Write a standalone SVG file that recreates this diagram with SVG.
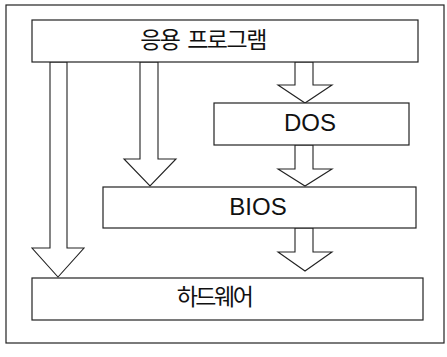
<svg xmlns="http://www.w3.org/2000/svg" width="447" height="357" viewBox="0 0 447 357">
<style>
.box{fill:#fff;stroke:#222;stroke-width:1.2}
.arr{fill:#fff;stroke:#222;stroke-width:1.1;stroke-linejoin:miter}
.ko{font-family:"Noto Sans CJK KR","Noto Sans",sans-serif;font-size:23px;fill:#111;text-anchor:middle}
.en{font-family:"Liberation Sans",Arial,sans-serif;font-size:24px;fill:#111;text-anchor:middle}
</style>
<rect width="447" height="357" fill="#fff"/>
<rect x="6" y="5" width="438" height="338" fill="none" stroke="#222" stroke-width="1.2"/>
<g id="connectors">
<polygon class="arr" points="50,62 67,62 67,248 84,248 58,277 32,248 50,248"/>
<polygon class="arr" points="140,62 158,62 158,159 176,159 150,186 124,159 140,159"/>
<polygon class="arr" points="295,62 313,62 313,85 332,85 305,103 278,85 295,85"/>
<polygon class="arr" points="295,145 313,145 313,169 332,169 305,186 278,169 295,169"/>
<polygon class="arr" points="295,228 313,228 313,252 332,252 305,271 278,252 295,252"/>
</g>
<g id="app">
<rect class="box" x="32" y="20" width="386" height="42"/>
<text class="ko" x="203" y="47.5" letter-spacing="-1.5" word-spacing="4">응용 프로그램</text>
</g>
<g id="dos">
<rect class="box" x="214" y="103" width="195" height="42"/>
<text class="en" x="310" y="131">DOS</text>
</g>
<g id="bios">
<rect class="box" x="103" y="187" width="313" height="41"/>
<text class="en" x="258" y="215">BIOS</text>
</g>
<g id="hw">
<rect class="box" x="32" y="278" width="391" height="42"/>
<text class="ko" x="214" y="304.5" letter-spacing="-2.5">하드웨어</text>
</g>
</svg>
